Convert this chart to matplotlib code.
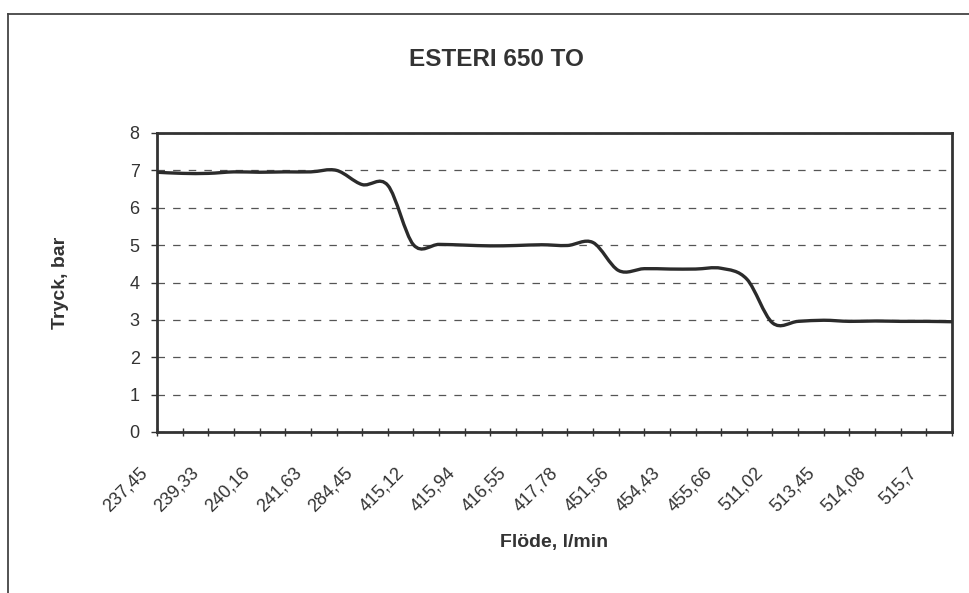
import matplotlib
matplotlib.use('agg')
import matplotlib.pyplot as plt
import numpy as np
from matplotlib.path import Path
from matplotlib.patches import PathPatch
from matplotlib.lines import Line2D
import matplotlib.transforms as mtransforms

plt.rcParams['font.family'] = ['Liberation Sans', 'DejaVu Sans']

# tryck (bar) per mätpunkt, 32 punkter, läst från bilden
tryck = [6.95, 6.92, 6.92, 6.96, 6.95, 6.96, 6.96, 7.00,
         6.62, 6.60, 5.01, 5.02, 5.00, 4.98, 4.99, 5.01,
         4.99, 5.07, 4.32, 4.37, 4.36, 4.36, 4.38, 4.09,
         2.92, 2.96, 2.99, 2.96, 2.97, 2.96, 2.96, 2.95]

# bara varannan kategori har synlig etikett
flode_etiketter = ['237,45', '239,33', '240,16', '241,63', '284,45', '415,12',
                   '415,94', '416,55', '417,78', '451,56', '454,43', '455,66',
                   '511,02', '513,45', '514,08', '515,7']

titel = 'ESTERI 650 TO'
xlab = 'Flöde, l/min'
ylab = 'Tryck, bar'

mork = '#333333'

fig = plt.figure(figsize=(9.7, 5.93), dpi=100)
ax = fig.add_axes([157/970, 1-432/593, (952-157)/970, (432-133)/593])

x = np.arange(len(tryck))
y = np.array(tryck, dtype=float)

# utjämnad linje som i excel (catmull-rom -> bezier)
yp = np.concatenate([[y[0]], y, [y[-1]]])
xp = np.concatenate([[x[0]], x, [x[-1]]])
verts = [(x[0], y[0])]
codes = [Path.MOVETO]
for i in range(len(y)-1):
    c1 = (x[i] + (xp[i+2]-xp[i])/6, y[i] + (yp[i+2]-yp[i])/6)
    c2 = (x[i+1] - (xp[i+3]-xp[i+1])/6, y[i+1] - (yp[i+3]-yp[i+1])/6)
    verts += [c1, c2, (x[i+1], y[i+1])]
    codes += [Path.CURVE4]*3
ax.add_patch(PathPatch(Path(verts, codes), fill=False, edgecolor='#2b2b2b', lw=2.4, zorder=3))

ax.set_xlim(0, len(tryck)-1)
ax.set_ylim(0, 8)
ax.set_yticks(range(0, 9))
ax.set_xticks(x[::2])
ax.set_xticks(x[1::2], minor=True)
ax.tick_params(axis='x', which='both', direction='inout', length=6, width=1, color=mork, pad=20)
ax.tick_params(axis='y', direction='out', length=4.5, width=1, color=mork, pad=8, labelsize=13, labelcolor=mork)
ax.set_xticklabels(flode_etiketter, rotation=45, ha='right', va='top',
                   rotation_mode='anchor', fontsize=13, color=mork)
# flytta etiketterna lite åt vänster, som i originalet
for lab in ax.get_xticklabels():
    lab.set_transform(lab.get_transform() + mtransforms.ScaledTranslation(-0.18, 0, fig.dpi_scale_trans))

ax.yaxis.grid(True, color='#555555', lw=0.9, dashes=(6, 6.5))
ax.set_axisbelow(True)
for s in ax.spines.values():
    s.set_color(mork)
    s.set_linewidth(2)

ax.set_xlabel(xlab, fontsize=14, weight='bold', color=mork, va='top')
ax.xaxis.set_label_coords(0.5, -0.34)
ax.set_ylabel(ylab, fontsize=14, weight='bold', color=mork)
ax.yaxis.set_label_coords(-0.111, 0.5)

fig.text(496/970, 1-60/593, titel, ha='center', va='center', fontsize=17.5, weight='bold', color=mork)

# ram runt diagrammet (bara topp och vänster syns)
fig.add_artist(Line2D([8/970, 1], [1-14/593, 1-14/593], color='#444444', lw=1.3))
fig.add_artist(Line2D([8/970, 8/970], [0, 1-14/593], color='#444444', lw=1.3))

plt.savefig('out.png', format='png', dpi=100)
